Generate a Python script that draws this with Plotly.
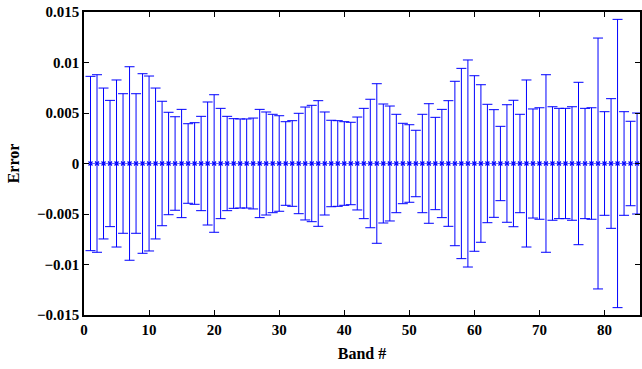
import plotly.graph_objects as go

# Band numbers and the per-band error magnitude (symmetric bars about zero)
bands = list(range(1, 86))
mean_error = [0.0] * 85
err_half = [
    0.00863, 0.00879, 0.00747, 0.00625, 0.00827, 0.00691, 0.00958, 0.00691, 0.00889, 0.00866,
    0.00747, 0.00616, 0.00507, 0.00463, 0.00536, 0.00394, 0.00404, 0.00467, 0.00609, 0.00681,
    0.00546, 0.00467, 0.00444, 0.00441, 0.00441, 0.00450, 0.00536, 0.00510, 0.00487, 0.00473,
    0.00414, 0.00424, 0.00497, 0.00559, 0.00576, 0.00622, 0.00510, 0.00428, 0.00424, 0.00414,
    0.00408, 0.00460, 0.00546, 0.00636, 0.00790, 0.00589, 0.00569, 0.00487, 0.00398, 0.00384,
    0.00329, 0.00487, 0.00592, 0.00457, 0.00536, 0.00622, 0.00814, 0.00942, 0.01025, 0.00869,
    0.00780, 0.00586, 0.00533, 0.00368, 0.00582, 0.00626, 0.00487, 0.00827, 0.00540, 0.00552,
    0.00879, 0.00562, 0.00546, 0.00546, 0.00562, 0.00804, 0.00546, 0.00552, 0.01242, 0.00513,
    0.00642, 0.01427, 0.00513, 0.00418, 0.00500,
]

y_ticks = [-0.015, -0.01, -0.005, 0, 0.005, 0.01, 0.015]
y_tick_text = ["\u22120.015", "\u22120.01", "\u22120.005", "0", "0.005", "0.01", "0.015"]
x_ticks = [0, 10, 20, 30, 40, 50, 60, 70, 80]

BLUE = "rgb(0,0,255)"
FONT = "Liberation Serif"

fig = go.Figure()
fig.add_trace(go.Scatter(
    x=bands,
    y=mean_error,
    mode="lines+markers",
    line=dict(color="rgba(0,0,255,0.6)", width=1),
    marker=dict(symbol="x-thin", size=4, line=dict(color=BLUE, width=1.2), color=BLUE),
    error_y=dict(type="data", array=err_half, visible=True, color=BLUE, thickness=1, width=5),
    showlegend=False,
    cliponaxis=False,
))

axis_common = dict(
    showgrid=False,
    zeroline=False,
    showline=True,
    linecolor="black",
    linewidth=1.5,
    mirror="ticks",
    ticks="inside",
    ticklen=5,
    tickwidth=1,
    tickcolor="black",
    tickfont=dict(family=FONT, size=15, color="black", weight="bold"),
)

fig.update_xaxes(
    range=[0, 85.45],
    tickvals=x_ticks,
    title=dict(text="<b>Band #</b>", font=dict(family=FONT, size=16, color="black"), standoff=11),
    **axis_common,
)
fig.update_yaxes(
    range=[-0.015, 0.015],
    tickvals=y_ticks,
    ticktext=y_tick_text,
    title=dict(text="<b>Error</b>", font=dict(family=FONT, size=16, color="black"), standoff=13),
    **axis_common,
)

fig.update_layout(
    width=642,
    height=369,
    margin=dict(l=84, r=0, t=12, b=54),
    paper_bgcolor="white",
    plot_bgcolor="white",
)

fig.write_html("out.html")
